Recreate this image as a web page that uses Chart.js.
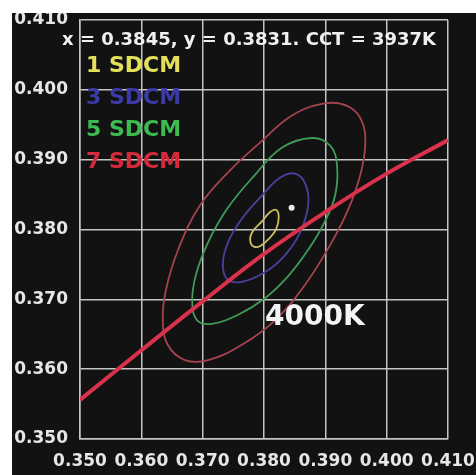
<!DOCTYPE html>
<html>
<head>
<meta charset="utf-8">
<script src="https://cdn.jsdelivr.net/npm/chart.js@4.4.1/dist/chart.umd.min.js"></script>
<style>
    html, body { margin: 0; padding: 0; background: #fff; }
    #marco { position: absolute; left: 12px; top: 13px; width: 464px; height: 462px; background: #121212; }
</style>
</head>
<body>
<div id="marco"><canvas id="grafico"></canvas></div>
<script>
// Ejes (coordenadas cromáticas x, y)
const ticksValores = [0.350, 0.360, 0.370, 0.380, 0.390, 0.400, 0.410];
const ticksEtiquetas = ['0.350', '0.360', '0.370', '0.380', '0.390', '0.400', '0.410'];

// Locus de Planck (línea roja)
const planckX = [0.350, 0.360, 0.370, 0.380, 0.390, 0.400, 0.410];
const planckY = [0.3556, 0.3627, 0.3697, 0.3765, 0.3825, 0.3880, 0.3928];

// Elipses MacAdam (el último punto cierra la curva)
const sdcm1X = [0.3797, 0.3810, 0.3820, 0.3824, 0.3820, 0.3807, 0.3790, 0.3779, 0.3780, 0.3797];
const sdcm1Y = [0.3812, 0.3825, 0.3828, 0.3818, 0.3801, 0.3786, 0.3775, 0.3779, 0.3795, 0.3812];

const sdcm3X = [0.3797, 0.3826, 0.3851, 0.3868, 0.3872, 0.3859, 0.3834, 0.3802, 0.3764, 0.3740, 0.3733, 0.3743, 0.3766, 0.3797];
const sdcm3Y = [0.3849, 0.3874, 0.3880, 0.3864, 0.3835, 0.3796, 0.3763, 0.3739, 0.3725, 0.3729, 0.3752, 0.3785, 0.3818, 0.3849];

const sdcm5X = [0.3829, 0.3878, 0.3908, 0.3919, 0.3916, 0.3899, 0.3872, 0.3839, 0.3802, 0.3758, 0.3715, 0.3691, 0.3683, 0.3689, 0.3709, 0.3741, 0.3785, 0.3829];
const sdcm5Y = [0.3917, 0.3931, 0.3920, 0.3892, 0.3849, 0.3811, 0.3771, 0.3733, 0.3702, 0.3678, 0.3665, 0.3670, 0.3696, 0.3735, 0.3782, 0.3831, 0.3878, 0.3917];

const sdcm7X = [0.3745, 0.3793, 0.3847, 0.3903, 0.3940, 0.3960, 0.3965, 0.3957, 0.3937, 0.3908, 0.3867, 0.3818, 0.3764, 0.3709, 0.3671, 0.3643, 0.3635, 0.3640, 0.3660, 0.3696, 0.3745];
const sdcm7Y = [0.3885, 0.3924, 0.3964, 0.3981, 0.3975, 0.3954, 0.3921, 0.3878, 0.3828, 0.3778, 0.3721, 0.3670, 0.3635, 0.3613, 0.3613, 0.3635, 0.3670, 0.3713, 0.3771, 0.3835, 0.3885];

// Punto medido
const puntoX = [0.3845];
const puntoY = [0.3831];
const cct = 3937;

// Textos
const sdcmEtiquetas = ['1 SDCM', '3 SDCM', '5 SDCM', '7 SDCM'];
const etiquetaCCT = '4000K';
const titulo = `x = ${puntoX[0].toFixed(4)}, y = ${puntoY[0].toFixed(4)}. CCT = ${cct}K`;

const coloresTexto = ['#e2e05a', '#3c3aa6', '#3dba50', '#d42a3c'];
const coloresElipse = ['#c8c062', '#4a40a0', '#3f9c58', '#a5434f'];

function aPuntos(xs, ys) {
    return xs.map((x, i) => ({ x: x, y: ys[i] }));
}

function elipse(xs, ys, color, orden) {
    const puntos = aPuntos(xs, ys);
    // damos una vuelta extra y ocultamos el primer y último tramo
    // para que la unión de la curva quede suave
    puntos.push(puntos[1], puntos[2]);
    const ultimo = puntos.length - 2;
    return {
        data: puntos,
        showLine: true,
        tension: 0.4,
        borderColor: color,
        borderWidth: 1.8,
        pointRadius: 0,
        fill: false,
        order: orden,
        segment: {
            borderColor: c => (c.p0DataIndex === 0 || c.p0DataIndex === ultimo) ? 'rgba(0,0,0,0)' : undefined
        }
    };
}

// ---------- Textos sobre el gráfico ----------
const pluginTextos = {
    id: 'textos',
    afterDraw(chart) {
        const ctx = chart.ctx;
        ctx.save();
        ctx.textBaseline = 'middle';
        ctx.textAlign = 'left';

        ctx.fillStyle = '#f0f0f0';
        ctx.font = 'bold 18px "DejaVu Sans"';
        ctx.fillText(titulo, 50, 27);

        ctx.font = 'bold 22px "DejaVu Sans"';
        sdcmEtiquetas.forEach((t, i) => {
            ctx.fillStyle = coloresTexto[i];
            ctx.fillText(t, 74, 53 + i * 32);
        });

        ctx.fillStyle = '#f4f4f4';
        ctx.font = 'bold 28px "DejaVu Sans"';
        ctx.fillText(etiquetaCCT, 253, 305);
        ctx.restore();
    }
};

const ejeComun = {
    type: 'linear',
    min: 0.35,
    max: 0.41,
    border: { color: '#c4c4c4', width: 1.5 },
    grid: { color: '#c4c4c4', lineWidth: 1.5, drawTicks: false },
    ticks: {
        color: '#e6e6e6',
        font: { family: 'DejaVu Sans', size: 17, weight: 'bold' },
        padding: 12,
        autoSkip: false,
        maxRotation: 0,
        callback: (v) => {
            const i = ticksValores.findIndex(t => Math.abs(t - v) < 1e-6);
            return i >= 0 ? ticksEtiquetas[i] : '';
        }
    },
    afterBuildTicks: (scale) => {
        scale.ticks = ticksValores.map(v => ({ value: v }));
    }
};

new Chart(document.getElementById('grafico'), {
    type: 'scatter',
    data: {
        datasets: [
            {
                data: aPuntos(puntoX, puntoY),
                pointRadius: 3,
                backgroundColor: '#ececec',
                borderWidth: 0,
                order: 0
            },
            {
                data: aPuntos(planckX, planckY),
                showLine: true,
                tension: 0.4,
                borderColor: '#d8324c',
                borderWidth: 4,
                pointRadius: 0,
                order: 1
            },
            elipse(sdcm1X, sdcm1Y, coloresElipse[0], 2),
            elipse(sdcm3X, sdcm3Y, coloresElipse[1], 3),
            elipse(sdcm5X, sdcm5Y, coloresElipse[2], 4),
            elipse(sdcm7X, sdcm7Y, coloresElipse[3], 5)
        ]
    },
    options: {
        responsive: true,
        maintainAspectRatio: false,
        animation: false,
        layout: { padding: { top: 7, right: 28, left: 0, bottom: 0 } },
        plugins: {
            legend: { display: false },
            tooltip: { enabled: false }
        },
        scales: {
            x: Object.assign({}, ejeComun, {
                position: 'bottom',
                afterFit: (scale) => {
                    scale.height = 36;
                    scale.paddingLeft = 0;
                    scale.paddingRight = 0;
                }
            }),
            y: Object.assign({}, ejeComun, {
                position: 'left',
                afterFit: (scale) => {
                    scale.width = 68;
                    scale.paddingTop = 0;
                    scale.paddingBottom = 0;
                }
            })
        }
    },
    plugins: [pluginTextos]
});
</script>
</body>
</html>
